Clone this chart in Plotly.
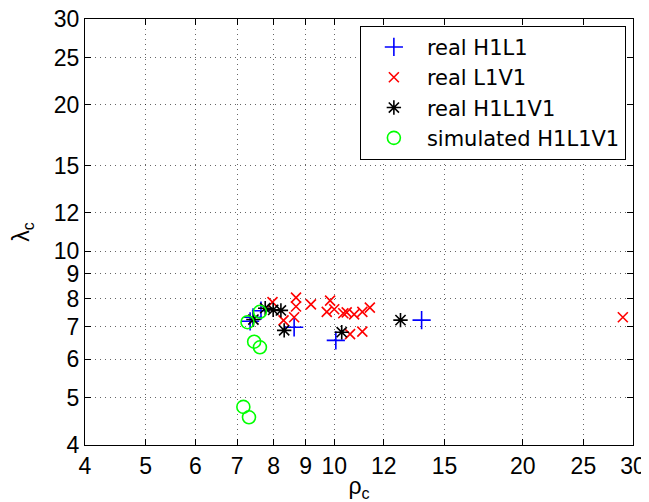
import plotly.graph_objects as go
import math

# Data
h1l1_rho = [7.34, 7.42, 7.64, 8.63, 10.06, 13.79]
h1l1_lam = [7.18, 7.32, 7.55, 6.98, 6.56, 7.22]

l1v1_rho = [7.97, 8.69, 8.69, 9.18, 9.85, 9.73, 10.0, 10.34, 10.47, 10.76, 11.09, 11.4, 8.30, 8.63, 10.6, 11.09, 28.9]
l1v1_lam = [7.86, 8.03, 7.70, 7.78, 7.92, 7.51, 7.60, 7.46, 7.49, 7.42, 7.51, 7.66, 7.21, 7.32, 6.76, 6.84, 7.32]

h1l1v1_rho = [7.43, 7.76, 7.99, 8.22, 8.32, 10.28, 12.76]
h1l1v1_lam = [7.24, 7.64, 7.58, 7.56, 6.88, 6.82, 7.22]

sim_rho = [7.27, 7.61, 7.45, 7.61, 7.16, 7.31]
sim_lam = [7.15, 7.51, 6.52, 6.35, 4.79, 4.56]

x_ticks = [4, 5, 6, 7, 8, 9, 10, 12, 15, 20, 25, 30]
y_ticks = [4, 5, 6, 7, 8, 9, 10, 12, 15, 20, 25, 30]

FONT = "Liberation Sans, Arial, Helvetica, sans-serif"
LEGEND_FONT = "DejaVu Sans, Liberation Sans, sans-serif"

fig = go.Figure()
fig.add_trace(go.Scatter(x=h1l1_rho, y=h1l1_lam, mode="markers", name="real H1L1",
                         marker=dict(symbol="cross-thin-open", size=13, color="#0000FF",
                                     line=dict(width=1.6, color="#0000FF"))))
fig.add_trace(go.Scatter(x=l1v1_rho, y=l1v1_lam, mode="markers", name="real L1V1",
                         marker=dict(symbol="x-thin-open", size=10, color="#FF0000",
                                     line=dict(width=1.6, color="#FF0000"))))
fig.add_trace(go.Scatter(x=h1l1v1_rho, y=h1l1v1_lam, mode="markers", name="real H1L1V1",
                         marker=dict(symbol="asterisk-open", size=12, color="#000000",
                                     line=dict(width=1.6, color="#000000"))))
fig.add_trace(go.Scatter(x=sim_rho, y=sim_lam, mode="markers", name="simulated H1L1V1",
                         marker=dict(symbol="circle-open", size=13, color="#00FF00",
                                     line=dict(width=1.6, color="#00FF00"))))

axis_common = dict(
    type="log",
    range=[math.log10(4), math.log10(30)],
    automargin=False,
    showline=True, linecolor="black", linewidth=1, mirror="ticks",
    ticks="inside", ticklen=6, tickcolor="black", tickwidth=1,
    showgrid=True, gridcolor="rgba(0,0,0,0.6)", griddash="1px,4px", gridwidth=1,
    zeroline=False,
    ticklabeloverflow="allow",
    tickfont=dict(family=FONT, size=23, color="black"),
)

fig.update_xaxes(**axis_common, tickvals=x_ticks, ticktext=[str(v) for v in x_ticks],
                 title=dict(text="ρ<sub>c</sub>", font=dict(family=FONT, size=23, color="black"),
                            standoff=0),
                 ticklabelstandoff=0)
fig.update_yaxes(**axis_common, tickvals=y_ticks, ticktext=[str(v) for v in y_ticks],
                 title=dict(text="λ<sub>c</sub>", font=dict(family=FONT, size=23, color="black"),
                            standoff=29),
                 ticklabelstandoff=0)

# page body has an 8px margin, so the figure is offset by (8, 8) in the screenshot
fig.update_layout(
    width=649, height=502,
    margin=dict(l=77, r=24, t=11, b=65),
    paper_bgcolor="white", plot_bgcolor="white",
    font=dict(family=FONT, color="black"),
    legend=dict(
        x=0.987, y=0.984, xanchor="right", yanchor="top",
        bgcolor="white", bordercolor="black", borderwidth=1,
        font=dict(family=LEGEND_FONT, size=21, color="black"),
        itemwidth=56,
    ),
)

fig.write_html("out.html")
